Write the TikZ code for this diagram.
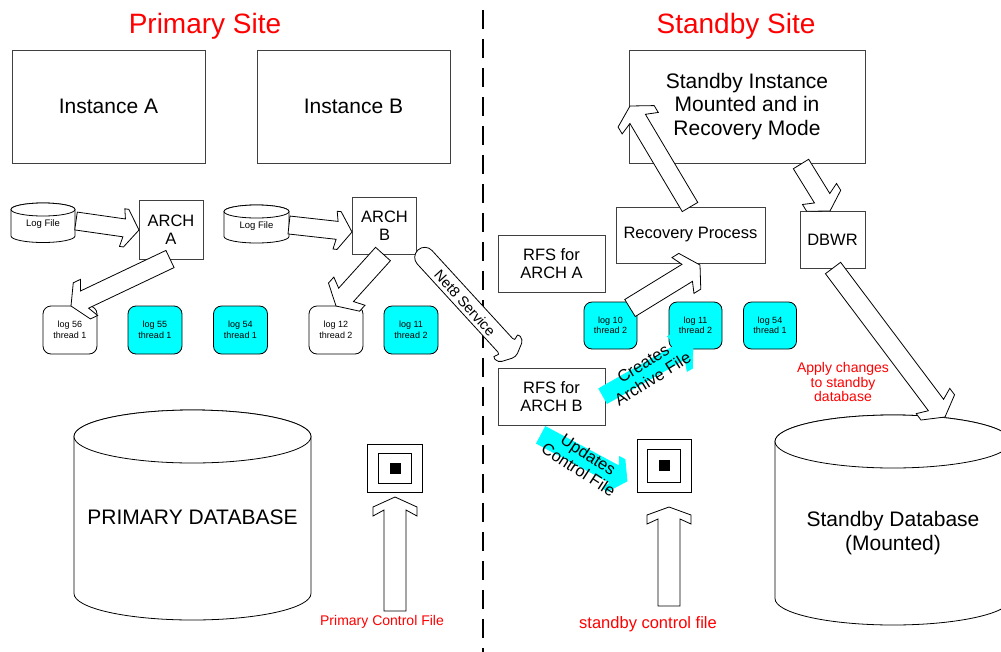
\documentclass[tikz,border=0pt]{standalone}
\usepackage{fontspec}
\setmainfont{Liberation Sans}
\usetikzlibrary{calc}
\definecolor{edgegray}{RGB}{64,64,64}
\definecolor{logcyan}{RGB}{0,255,255}

% Block arrow from tail #2 to tip #3:
% #4 shaft half-width, #5 head half-width, #6 shaft/head join, #7 wing back, #8 wing front
% (all distances measured back from the tip)
\newcommand\blockarrow[8][]{%
  \coordinate (baJ) at ($(#3)!#6pt!(#2)$);
  \coordinate (baB) at ($(#3)!#7pt!(#2)$);
  \coordinate (baF) at ($(#3)!#8pt!(#2)$);
  \draw[fatarrow,#1] (#2) -- ($(#2)!#4pt!90:(#3)$) -- ($(baJ)!#4pt!90:(#3)$)
    -- ($(baB)!#5pt!90:(#3)$) -- ($(baF)!#5pt!90:(#3)$) -- (#3)
    -- ($(baF)!#5pt!-90:(#3)$) -- ($(baB)!#5pt!-90:(#3)$)
    -- ($(baJ)!#4pt!-90:(#3)$) -- ($(#2)!#4pt!-90:(#3)$) -- cycle;
}
% Drum: centre x, top-ellipse y, bottom-ellipse y, x radius, y radius
\newcommand\drum[5]{%
  \filldraw[drumline] ({#1-#4},#2) -- ({#1-#4},#3)
    arc[start angle=180,end angle=360,x radius=#4pt,y radius=#5pt]
    -- ({#1+#4},#2)
    arc[start angle=0,end angle=180,x radius=#4pt,y radius=#5pt] -- cycle;
  \draw[drumline] (#1,#2) ellipse[x radius=#4pt,y radius=#5pt];
}

\begin{document}
\begin{tikzpicture}[x=1pt,y=-1pt,
  title/.style={text=red, font=\fontsize{28}{30}\selectfont},
  redlabel/.style={text=red, align=center, inner sep=0pt},
  box/.style={draw=edgegray, line width=0.9pt, fill=white, inner sep=0pt, align=center},
  big/.style={font=\fontsize{21}{23.5}\selectfont},
  mid/.style={font=\fontsize{16.5}{18}\selectfont},
  logbox/.style={draw=black, line width=0.8pt, rounded corners=8pt, minimum width=54pt,
    minimum height=48pt, inner sep=0pt, align=center, font=\fontsize{9}{10.5}\selectfont},
  filled/.style={fill=logcyan},
  drumline/.style={draw=black, line width=0.8pt, fill=white},
  fatarrow/.style={draw=black, line width=0.8pt, fill=white, line join=miter},
  cyanarrow/.style={draw=logcyan, fill=logcyan},
  divider/.style={line width=2.6pt, dash pattern=on 19pt off 10pt},
  ctlout/.style={draw=black, line width=0.8pt, fill=white}
]
\useasboundingbox (0,0) rectangle (1001,651);
\clip (0,0) rectangle (1001,651);

% site headings and the dividing line
\node[title] (ptitle) at (205,26) {Primary Site};
\node[title] (stitle) at (736,26) {Standby Site};
\draw[divider] (483,10) -- (483,660);

% instances
\node[box,big,minimum width=193pt,minimum height=113pt] (instA) at (108.5,106.5) {Instance A};
\node[box,big,minimum width=193pt,minimum height=113pt] (instB) at (353.5,106.5) {Instance B};
\node[box,big,minimum width=236pt,minimum height=113pt] (sbinst) at (747,106.5)
  {Standby Instance\\Mounted and in\\Recovery Mode};

% online log files
\drum{43}{209.5}{236}{32}{6.5}
\node[font=\fontsize{9.5}{11}\selectfont] (lfA) at (43,224) {Log File};
\drum{256.5}{211.5}{236.5}{32.5}{6.5}
\node[font=\fontsize{9.5}{11}\selectfont] (lfB) at (256.5,226) {Log File};

% archiver processes
\node[box,mid,minimum width=64pt,minimum height=59pt] (archA) at (171,229.5) {ARCH\\A};
\node[box,mid,minimum width=64pt,minimum height=57pt] (archB) at (384.5,225.5) {ARCH\\B};

% primary archived logs
\node[logbox] (log56) at (70,330) {log 56\\thread 1};
\node[logbox,filled] (log55) at (155,330) {log 55\\thread 1};
\node[logbox,filled] (log54) at (240.5,330) {log 54\\thread 1};
\node[logbox] (log12) at (336,330) {log 12\\thread 2};
\node[logbox,filled] (log11) at (411,330) {log 11\\thread 2};

% standby processes
\node[box,mid,minimum width=107pt,minimum height=57pt] (rfsA) at (551.5,263.5) {RFS for\\ARCH A};
\node[box,mid,minimum width=107pt,minimum height=57pt] (rfsB) at (551.5,396.5) {RFS for\\ARCH B};
\node[box,mid,minimum width=149pt,minimum height=56pt] (recov) at (690.5,235) {Recovery Process};
\node[box,mid,minimum width=65pt,minimum height=57pt] (dbwr) at (832.5,239.5) {DBWR};

% standby archived logs
\node[logbox,filled,minimum width=53pt,minimum height=47pt] (log10s) at (610.5,325.5) {log 10\\thread 2};
\node[logbox,filled,minimum width=53pt,minimum height=47pt] (log11s) at (695.5,325.5) {log 11\\thread 2};
\node[logbox,filled,minimum width=53pt,minimum height=47pt] (log54s) at (770,325.5) {log 54\\thread 1};

% databases
\drum{192.5}{436.5}{593.5}{118.5}{26.5}
\node[big] (pdb) at (192.5,517) {PRIMARY DATABASE};
\drum{893}{441.5}{598.5}{118}{26.5}
\node[big,align=center] (sdb) at (893,533) {Standby Database\\(Mounted)};

% control files
\node[ctlout,minimum width=55pt,minimum height=48pt,inner sep=0pt] (pcf) at (395,468) {};
\node[ctlout,minimum width=33pt,minimum height=30pt,inner sep=0pt] (pcfi) at (395,468) {};
\node[fill=black,minimum width=11pt,minimum height=11pt,inner sep=0pt] (pcfc) at (395,468) {};
\node[ctlout,minimum width=54pt,minimum height=53pt,inner sep=0pt] (scf) at (664,465.5) {};
\node[ctlout,minimum width=33pt,minimum height=33pt,inner sep=0pt] (scfi) at (664,465.5) {};
\node[fill=black,minimum width=11pt,minimum height=11pt,inner sep=0pt] (scfc) at (664,465.5) {};

% arrow end points
\coordinate (lfA-out) at (76,221);   \coordinate (archA-in) at (139,230);
\coordinate (lfB-out) at (289,225);  \coordinate (archB-in) at (352,232);
\coordinate (archA-out) at (170,259); \coordinate (log56-in) at (71,306);
\coordinate (archB-out) at (383,254); \coordinate (log12-in) at (336,306);
\coordinate (net-out) at (418,250);  \coordinate (net-in) at (516,357);
\coordinate (recov-out) at (690,207); \coordinate (sbinst-in) at (630,106);
\coordinate (sbinst-out) at (801,164); \coordinate (dbwr-in) at (830,211);
\coordinate (dbwr-out) at (833,268); \coordinate (sdb-in) at (945,417);
\coordinate (log10-out) at (630,308); \coordinate (recov-in) at (700,265);
\coordinate (rfsB-arch) at (603,396); \coordinate (log11s-in) at (693,345);
\coordinate (rfsB-ctl) at (541,435);  \coordinate (scf-side) at (627,481);
\coordinate (pcf-tail) at (395,611); \coordinate (pcf-in) at (395,497);
\coordinate (scf-tail) at (669,606); \coordinate (scf-in) at (669,507);

% redo flow
\blockarrow{lfA-out}{archA-in}{9}{19}{15}{17}{13}
\blockarrow{lfB-out}{archB-in}{9}{19}{15}{17}{13}
\blockarrow{archA-out}{log56-in}{9.5}{20}{15}{20}{12}
\blockarrow{archB-out}{log12-in}{10}{21}{15}{20}{12}

% Net8 transport: round-ended shaft with a softened head
\coordinate (netM) at ($(net-out)!0.5!(net-in)$);
\coordinate (netJ) at ($(net-in)!12pt!(net-out)$);
\coordinate (netB) at ($(net-in)!17pt!(net-out)$);
\coordinate (netF) at ($(net-in)!8pt!(net-out)$);
\draw[fatarrow]
  [rounded corners=9.8pt] ($(netM)!10pt!90:(net-in)$) -- ($(net-out)!10pt!90:(net-in)$)
  -- ($(net-out)!10pt!-90:(net-in)$) -- ($(netM)!10pt!-90:(net-in)$)
  [rounded corners=4pt] -- ($(netJ)!10pt!-90:(net-in)$) -- ($(netB)!17pt!-90:(net-in)$)
  -- ($(netF)!17pt!-90:(net-in)$) -- (net-in) -- ($(netF)!17pt!90:(net-in)$)
  -- ($(netB)!17pt!90:(net-in)$) -- ($(netJ)!10pt!90:(net-in)$) -- cycle;
\node[font=\fontsize{14.5}{16}\selectfont,rotate=-48] (net8) at (465,303) {Net8 Service};

% standby side flow
\blockarrow{recov-out}{sbinst-in}{9}{21}{15}{20}{12}
\blockarrow{sbinst-out}{dbwr-in}{9}{20}{15}{20}{12}
\blockarrow{dbwr-out}{sdb-in}{9.5}{21}{15}{20}{12}
\blockarrow{log10-out}{recov-in}{10}{21}{15}{20}{12}
\blockarrow[cyanarrow]{rfsB-arch}{log11s-in}{8.5}{20}{14}{18}{12}
\node[mid,align=center,rotate=32] (creates) at (648,371) {Creates\\Archive File};
\blockarrow[cyanarrow]{rfsB-ctl}{scf-side}{9.5}{18}{14}{18}{12}
\node[mid,align=center,rotate=-33] (updates) at (583.5,462) {Updates\\Control File};

% control file arrows
\blockarrow{pcf-tail}{pcf-in}{11}{22}{13}{19}{10}
\blockarrow{scf-tail}{scf-in}{11}{22}{12}{17}{8}

% red captions
\node[redlabel,font=\fontsize{14}{15}\selectfont] (pcfl) at (382,622) {Primary Control File};
\node[redlabel,font=\fontsize{16.5}{18}\selectfont] (scfl) at (648,624) {standby control file};
\node[redlabel,font=\fontsize{14}{14.5}\selectfont] (apply) at (843,382) {Apply changes\\to standby\\database};
\end{tikzpicture}
\end{document}
